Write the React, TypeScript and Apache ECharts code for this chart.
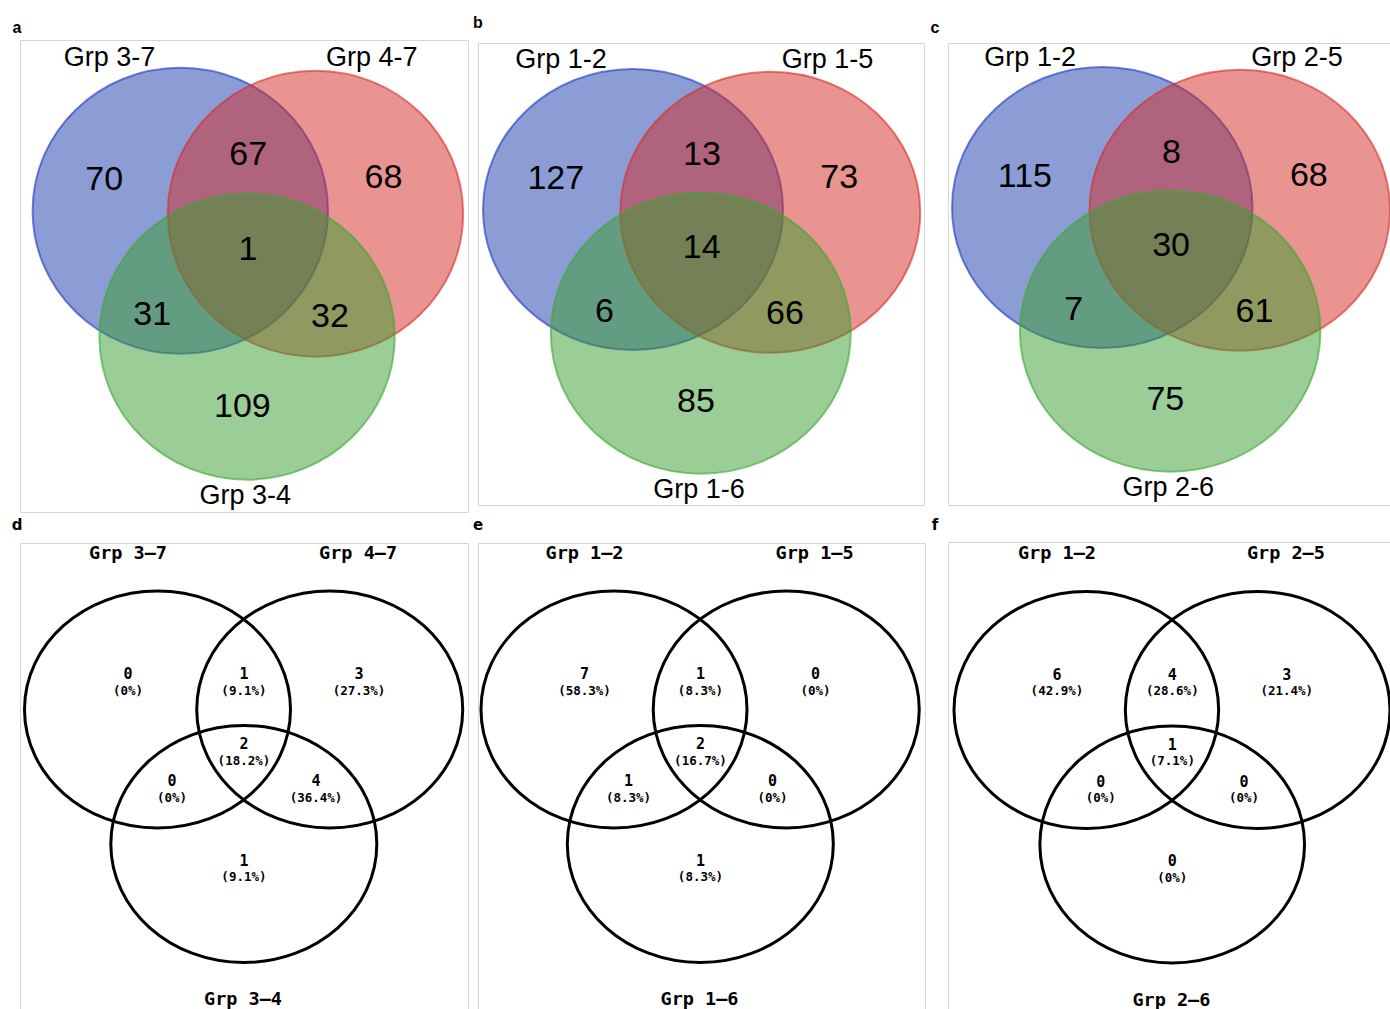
import React, { useEffect, useRef } from "react";
import * as echarts from "echarts";

// ---------- DATA ----------
// Region order: [A only, A∩B, B only, A∩B∩C, A∩C, B∩C, C only]
const PANEL_LETTERS = ["a", "b", "c", "d", "e", "f"];

const SET_NAMES_A = ["Grp 3-7", "Grp 4-7", "Grp 3-4"];
const COUNTS_A = [70, 67, 68, 1, 31, 32, 109];

const SET_NAMES_B = ["Grp 1-2", "Grp 1-5", "Grp 1-6"];
const COUNTS_B = [127, 13, 73, 14, 6, 66, 85];

const SET_NAMES_C = ["Grp 1-2", "Grp 2-5", "Grp 2-6"];
const COUNTS_C = [115, 8, 68, 30, 7, 61, 75];

const SET_NAMES_D = ["Grp 3\u20137", "Grp 4\u20137", "Grp 3\u20134"];
const COUNTS_D = [0, 1, 3, 2, 0, 4, 1];

const SET_NAMES_E = ["Grp 1\u20132", "Grp 1\u20135", "Grp 1\u20136"];
const COUNTS_E = [7, 1, 0, 2, 1, 0, 1];

const SET_NAMES_F = ["Grp 1\u20132", "Grp 2\u20135", "Grp 2\u20136"];
const COUNTS_F = [6, 4, 3, 1, 0, 0, 0];

// ---------- LAYOUT (geometry in units of circle radius) ----------
const TOP_LAYOUT = {
  xRange: [-1, 1.915],
  yRange: [-1.88, 1],
  circles: [
    [0, 0, 1],
    [0.915, -0.02, 1],
    [0.452, -0.88, 1],
  ],
  regions: [
    [-0.515, 0.23],
    [0.46, 0.405],
    [1.375, 0.24],
    [0.458, -0.257],
    [-0.19, -0.712],
    [1.013, -0.73],
    [0.42, -1.357],
  ],
  names: [
    [-0.48, 1.073],
    [1.296, 1.073],
    [0.44, -1.988],
  ],
};

const BOTTOM_LAYOUT = {
  xRange: [-1, 2.295],
  yRange: [-2.135, 1],
  circles: [
    [0, 0, 1],
    [1.295, 0, 1],
    [0.649, -1.135, 1],
  ],
  regions: [
    [-0.222, 0.291],
    [0.65, 0.291],
    [1.515, 0.291],
    [0.65, -0.3],
    [0.109, -0.612],
    [1.192, -0.612],
    [0.65, -1.286],
  ],
  names: [
    [-0.222, 1.329],
    [1.508, 1.329],
    [0.643, -2.44],
  ],
};

const PANELS = [
  { names: SET_NAMES_A, counts: COUNTS_A, kind: "top", left: 32.6, top: 67.8, rx: 147.7, ry: 143, box: [20, 40, 448, 472], letterPos: [17, 27] },
  { names: SET_NAMES_B, counts: COUNTS_B, kind: "top", left: 483, top: 69, rx: 150, ry: 140.5, box: [478, 43, 446, 462], letterPos: [478, 22] },
  { names: SET_NAMES_C, counts: COUNTS_C, kind: "top", left: 952, top: 67, rx: 150.5, ry: 140.5, box: [948, 43, 460, 462], letterPos: [935, 27] },
  { names: SET_NAMES_D, counts: COUNTS_D, kind: "bottom", left: 24.5, top: 591, rx: 133, ry: 118.5, box: [20, 543, 448, 480], letterPos: [17, 525] },
  { names: SET_NAMES_E, counts: COUNTS_E, kind: "bottom", left: 481, top: 591, rx: 133, ry: 118.5, box: [478, 543, 447, 480], letterPos: [478, 525] },
  { names: SET_NAMES_F, counts: COUNTS_F, kind: "bottom", left: 954, top: 591.5, rx: 132.5, ry: 118.5, box: [948, 542, 460, 480], letterPos: [935, 525] },
];

const TOP_FILLS = ["rgba(25,59,173,0.5)", "rgba(211,41,33,0.5)", "rgba(55,157,45,0.5)"];
const TOP_STROKES = ["rgba(40,66,200,0.65)", "rgba(215,45,45,0.6)", "rgba(60,170,50,0.6)"];

const SANS = '"Liberation Sans", Arial, Helvetica, sans-serif';
const MONO = '"DejaVu Sans Mono", monospace';

function pctLabel(v: number, total: number): string {
  if (v === 0) return "(0%)";
  return "(" + ((v / total) * 100).toFixed(1) + "%)";
}

export default function App() {
  const ref = useRef<HTMLDivElement>(null);

  useEffect(() => {
    document.body.style.margin = "0";
    const chart = echarts.init(ref.current!, null, { renderer: "svg" });

    const grids: any[] = [];
    const xAxes: any[] = [];
    const yAxes: any[] = [];
    const series: any[] = [];
    const graphics: any[] = [];

    PANELS.forEach((p, i) => {
      const L = p.kind === "top" ? TOP_LAYOUT : BOTTOM_LAYOUT;
      const isTop = p.kind === "top";
      grids.push({
        show: false,
        left: p.left,
        top: p.top,
        width: (L.xRange[1] - L.xRange[0]) * p.rx,
        height: (L.yRange[1] - L.yRange[0]) * p.ry,
      });
      xAxes.push({ type: "value", gridIndex: i, min: L.xRange[0], max: L.xRange[1], show: false });
      yAxes.push({ type: "value", gridIndex: i, min: L.yRange[0], max: L.yRange[1], show: false });

      // panel frame + letter
      graphics.push({
        type: "rect",
        silent: true,
        shape: { x: p.box[0] + 0.5, y: p.box[1] + 0.5, width: p.box[2], height: p.box[3] },
        style: { fill: "none", stroke: "#d6d6d6", lineWidth: 1 },
        z: 0,
      });
      graphics.push({
        type: "text",
        silent: true,
        x: p.letterPos[0],
        y: p.letterPos[1],
        style: {
          text: PANEL_LETTERS[i],
          font: isTop ? `bold 16px ${SANS}` : `bold 15px "DejaVu Sans", sans-serif`,
          fill: "#000",
          align: "center",
          verticalAlign: "middle",
        },
        z: 10,
      });

      // circles
      series.push({
        type: "custom",
        coordinateSystem: "cartesian2d",
        xAxisIndex: i,
        yAxisIndex: i,
        silent: true,
        z: 2,
        data: L.circles.map((c, k) => [c[0], c[1], c[2], k]),
        renderItem: (params: any, api: any) => {
          const c = api.coord([api.value(0), api.value(1)]);
          const s = api.size([api.value(2), api.value(2)]);
          const k = api.value(3);
          return {
            type: "ellipse",
            shape: { cx: c[0], cy: c[1], rx: s[0], ry: s[1] },
            style: isTop
              ? { fill: TOP_FILLS[k], stroke: TOP_STROKES[k], lineWidth: 2 }
              : { fill: "none", stroke: "#000", lineWidth: 3 },
          };
        },
      });

      // region counts
      const total = p.counts.reduce((a, b) => a + b, 0);
      series.push({
        type: "custom",
        coordinateSystem: "cartesian2d",
        xAxisIndex: i,
        yAxisIndex: i,
        silent: true,
        z: 5,
        data: L.regions.map((r, k) => [r[0], r[1], p.counts[k]]),
        renderItem: (params: any, api: any) => {
          const c = api.coord([api.value(0), api.value(1)]);
          const v = api.value(2);
          if (isTop) {
            return {
              type: "text",
              x: c[0],
              y: c[1],
              style: {
                text: String(v),
                font: `34px ${SANS}`,
                fill: "#000",
                align: "center",
                verticalAlign: "middle",
              },
            };
          }
          return {
            type: "group",
            children: [
              {
                type: "text",
                x: c[0],
                y: c[1] - 1,
                style: {
                  text: String(v),
                  font: `bold 15px ${MONO}`,
                  fill: "#000",
                  align: "center",
                  verticalAlign: "middle",
                },
              },
              {
                type: "text",
                x: c[0],
                y: c[1] + 15,
                style: {
                  text: pctLabel(v, total),
                  font: `bold 12.5px ${MONO}`,
                  fill: "#000",
                  align: "center",
                  verticalAlign: "middle",
                },
              },
            ],
          };
        },
      });

      // set names
      series.push({
        type: "custom",
        coordinateSystem: "cartesian2d",
        xAxisIndex: i,
        yAxisIndex: i,
        silent: true,
        z: 5,
        data: L.names.map((n, k) => [n[0], n[1], k]),
        renderItem: (params: any, api: any) => {
          const c = api.coord([api.value(0), api.value(1)]);
          const k = api.value(2);
          return {
            type: "text",
            x: c[0],
            y: c[1],
            style: {
              text: p.names[k],
              font: isTop ? `27px ${SANS}` : `bold 18.5px ${MONO}`,
              fill: "#000",
              align: "center",
              verticalAlign: "middle",
            },
          };
        },
      });
    });

    chart.setOption({
      animation: false,
      backgroundColor: "#fff",
      grid: grids,
      xAxis: xAxes,
      yAxis: yAxes,
      series,
      graphic: graphics,
    });

    return () => {
      chart.dispose();
    };
  }, []);

  return (
    <div
      ref={ref}
      style={{ position: "absolute", left: 0, top: 0, width: 1390, height: 1009 }}
    />
  );
}
